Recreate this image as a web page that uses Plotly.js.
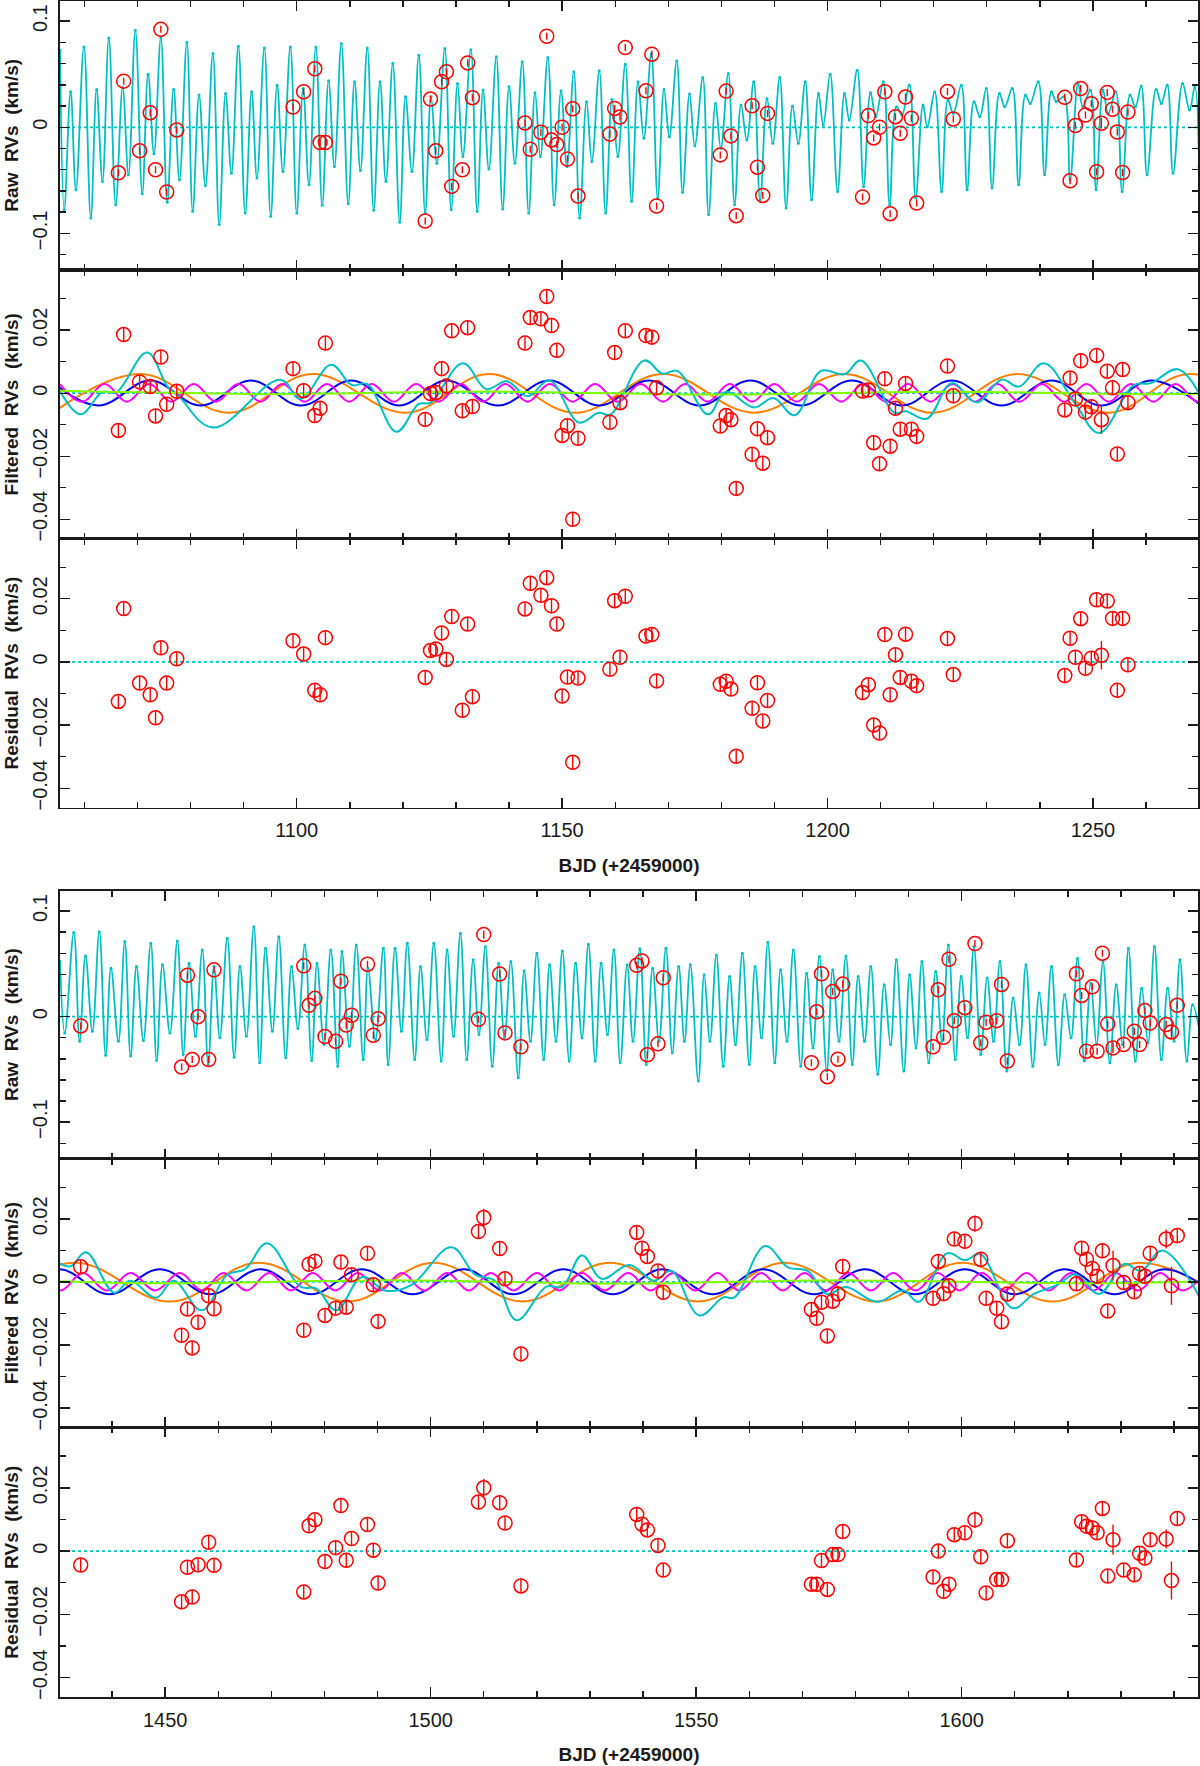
<!DOCTYPE html>
<html>
<head>
<meta charset="utf-8">
<script src="https://cdn.plot.ly/plotly-3.0.1.min.js"></script>
<style>
  body { margin: 0; background: #fff; }
  #chart { width: 1200px; height: 1766px; }
</style>
</head>
<body>
<div id="chart"></div>
<script>
// ---------------- observations, season 1 ----------------
const top_t = [1066.4,1067.4,1070.4,1072.4,1073.4,1074.4,1075.5,1077.4,
  1099.3,1101.3,1103.4,1104.4,1105.4,
  1124.2,1125.2,1126.2,1127.3,1128.2,1129.2,1131.2,1132.2,1133.1,
  1143.0,1144.0,1146.0,1147.1,1148.0,1149.0,1150.0,1151.0,1152.0,1153.0,
  1159.0,1159.9,1160.9,1161.9,1165.8,1166.9,1167.8,
  1179.8,1180.9,1181.8,1182.8,1185.8,1186.8,1187.8,1188.7,
  1206.6,1207.7,1208.7,1209.8,1210.8,1211.8,1212.8,1213.7,1214.7,1215.8,1216.8,
  1222.6,1223.7,
  1244.7,1245.7,1246.7,1247.7,1248.6,1249.7,1250.7,1251.6,1252.7,1253.7,1254.6,1255.6,1256.6];
const top_raw = [-0.0429,0.0435,-0.0222,0.0138,-0.0400,0.0923,-0.0610,-0.0025,
  0.0191,0.0335,0.0551,-0.0144,-0.0144,
  -0.0883,0.0266,-0.0222,0.0429,0.0523,-0.0557,-0.0401,0.0607,0.0279,
  0.0041,-0.0207,-0.0047,0.0858,-0.0119,-0.0163,0.0000,-0.0300,0.0175,-0.0648,
  -0.0063,0.0178,0.0097,0.0751,0.0344,0.0689,-0.0742,
  -0.0260,0.0341,-0.0081,-0.0833,0.0203,-0.0376,-0.0642,0.0131,
  -0.0657,0.0110,-0.0100,0.0000,0.0335,-0.0814,0.0100,-0.0056,0.0285,0.0085,-0.0714,
  0.0338,0.0078,
  0.0282,-0.0504,0.0016,0.0366,0.0116,0.0222,-0.0419,0.0038,0.0329,0.0169,-0.0044,-0.0426,0.0144];
const top_filt = [-0.0118,0.0186,0.0036,0.0021,-0.0072,0.0115,-0.0035,0.0006,
  0.0078,0.0008,-0.0071,-0.0048,0.0159,
  -0.0083,-0.0001,0.0002,0.0078,0.0023,0.0198,-0.0056,0.0208,-0.0042,
  0.0159,0.0240,0.0236,0.0307,0.0215,0.0136,-0.0134,-0.0103,-0.0400,-0.0143,
  -0.0092,0.0129,-0.0030,0.0198,0.0183,0.0178,0.0017,
  -0.0104,-0.0071,-0.0084,-0.0302,-0.0194,-0.0113,-0.0222,-0.0141,
  0.0007,0.0010,-0.0157,-0.0224,0.0046,-0.0168,-0.0048,-0.0114,0.0031,-0.0114,-0.0137,
  0.0086,-0.0008,
  -0.0053,0.0048,-0.0018,0.0103,-0.0060,-0.0043,0.0120,-0.0084,0.0070,0.0017,-0.0193,0.0075,-0.0030];
const top_res = [-0.0125,0.0169,-0.0067,-0.0104,-0.0177,0.0045,-0.0067,0.0010,
  0.0067,0.0025,-0.0090,-0.0104,0.0077,
  -0.0049,0.0036,0.0041,0.0092,0.0008,0.0144,-0.0153,0.0120,-0.0110,
  0.0168,0.0249,0.0211,0.0267,0.0178,0.0120,-0.0108,-0.0048,-0.0318,-0.0051,
  -0.0023,0.0194,0.0015,0.0208,0.0082,0.0087,-0.0060,
  -0.0071,-0.0061,-0.0086,-0.0299,-0.0147,-0.0066,-0.0187,-0.0122,
  -0.0097,-0.0072,-0.0200,-0.0225,0.0087,-0.0104,0.0023,-0.0049,0.0088,-0.0061,-0.0075,
  0.0074,-0.0040,
  -0.0043,0.0075,0.0015,0.0137,-0.0020,0.0012,0.0197,0.0021,0.0193,0.0138,-0.0090,0.0138,-0.0009];
const top_raw_err = [0.0033,0.0033,0.0033,0.0033,0.0033,0.0033,0.0033,0.0033,
  0.0033,0.0033,0.0033,0.0033,0.0033,
  0.0033,0.0033,0.0033,0.0033,0.0033,0.0033,0.0033,0.0033,0.0033,
  0.0033,0.0033,0.0033,0.0033,0.0033,0.0033,0.0033,0.0033,0.0033,0.0033,
  0.0033,0.0033,0.0033,0.0033,0.0033,0.0033,0.0033,
  0.0033,0.0033,0.0033,0.0033,0.0033,0.0033,0.0033,0.0033,
  0.0033,0.0033,0.0033,0.0033,0.0033,0.0033,0.0033,0.0033,0.0033,0.0033,0.0033,
  0.0033,0.0033,
  0.0033,0.0033,0.0033,0.0033,0.0033,0.0033,0.0033,0.0050,0.0033,0.0033,0.0033,0.0033,0.0033];
const top_err = [0.0021,0.0021,0.0021,0.0021,0.0021,0.0021,0.0021,0.0021,
  0.0021,0.0021,0.0021,0.0021,0.0021,
  0.0021,0.0021,0.0021,0.0021,0.0021,0.0021,0.0021,0.0021,0.0021,
  0.0021,0.0021,0.0021,0.0021,0.0021,0.0021,0.0021,0.0021,0.0021,0.0021,
  0.0021,0.0021,0.0021,0.0021,0.0021,0.0021,0.0021,
  0.0021,0.0021,0.0021,0.0021,0.0021,0.0021,0.0021,0.0021,
  0.0021,0.0021,0.0021,0.0021,0.0021,0.0021,0.0021,0.0021,0.0021,0.0021,0.0021,
  0.0021,0.0021,
  0.0021,0.0021,0.0021,0.0021,0.0021,0.0021,0.0021,0.0045,0.0021,0.0021,0.0021,0.0021,0.0021];

// stellar-activity model drawn over the raw RVs (turning points)
const top_act_t = [1055.4,1056.2,1057.4,1058.4,1059.9,1061.2,1062.3,1063.4,1064.6,1065.9,
  1067.2,1068.3,1069.6,1070.9,1072.0,1073.1,1074.4,1075.6,1076.8,1077.9,
  1079.3,1080.4,1081.6,1082.8,1084.2,1085.4,1086.6,1087.7,1089.0,1090.3,
  1091.5,1092.5,1093.9,1095.1,1096.3,1097.4,1098.8,1100.0,1101.2,1102.3,
  1103.6,1104.8,1106.0,1107.1,1108.4,1109.7,1110.9,1112.0,1113.3,1114.5,
  1115.7,1116.8,1118.1,1119.4,1120.5,1121.7,1123.0,1124.2,1125.3,1126.4,
  1127.9,1129.1,1130.3,1131.3,1132.8,1134.0,1135.1,1136.2,1137.6,1138.8,
  1140.0,1141.1,1142.5,1143.7,1144.9,1145.9,1147.3,1148.5,1149.8,1150.9,
  1152.2,1153.3,1154.6,1155.6,1157.0,1158.2,1159.4,1160.5,1161.9,1163.1,
  1164.3,1165.4,1166.8,1168.0,1169.2,1170.2,1171.6,1172.7,1174.0,1175.0,
  1176.5,1177.6,1178.9,1179.9,1181.3,1182.5,1183.7,1184.8,1186.1,1187.3,
  1188.6,1189.7,1191.0,1192.2,1193.4,1194.5,1195.8,1197.0,1198.3,1199.2,1200.5,
  1201.9,1203.2,1204.1,1205.6,1206.8,1208.1,1209.1,1210.5,1211.7,1213.0,
  1214.0,1215.4,1216.6,1218.0,1218.8,1220.2,1221.5,1222.7,1223.7,1225.2,
  1226.3,1227.6,1228.7,1229.9,1231.0,1232.4,1233.4,1234.8,1236.0,1237.3,
  1238.2,1239.7,1240.9,1242.2,1243.1,1244.5,1245.7,1247.2,1248.1,1249.5,
  1250.6,1251.9,1252.9,1254.3,1255.5,1257.0,1258.0,1259.1,1260.2,1261.9,
  1262.9,1264.0,1265.1,1266.9,1268.2,1269.2,1270.0];
const top_act_v = [0.0726,-0.0776,0.0335,-0.0588,0.0757,-0.0854,0.0357,-0.0510,0.0842,-0.0729,
  0.0376,-0.0448,0.0914,-0.0626,0.0500,-0.0250,0.0845,-0.0707,0.0357,-0.0495,
  0.0801,-0.0792,0.0304,-0.0551,0.0695,-0.0917,0.0319,-0.0432,0.0764,-0.0808,
  0.0335,-0.0479,0.0748,-0.0839,0.0397,-0.0416,0.0757,-0.0808,0.0366,-0.0541,
  0.0757,-0.0735,0.0438,-0.0369,0.0789,-0.0720,0.0429,-0.0407,0.0748,-0.0782,
  0.0429,-0.0510,0.0601,-0.0895,0.0288,-0.0416,0.0679,-0.0808,0.0288,-0.0338,
  0.0742,-0.0776,0.0413,-0.0275,0.0732,-0.0792,0.0351,-0.0394,0.0664,-0.0770,
  0.0382,-0.0338,0.0617,-0.0808,0.0326,-0.0275,0.0657,-0.0729,0.0344,-0.0369,
  0.0523,-0.0854,0.0241,-0.0322,0.0532,-0.0808,0.0263,-0.0275,0.0595,-0.0698,
  0.0429,-0.0103,0.0695,-0.0667,0.0357,-0.0088,0.0626,-0.0613,0.0313,-0.0175,
  0.0469,-0.0823,0.0225,-0.0197,0.0507,-0.0729,0.0210,-0.0119,0.0429,-0.0682,
  0.0272,-0.0150,0.0469,-0.0761,0.0200,-0.0150,0.0429,-0.0682,0.0319,0.0022,0.0500,
  -0.0604,0.0319,0.0069,0.0538,-0.0557,0.0326,0.0100,0.0429,-0.0729,0.0194,
  0.0116,0.0397,-0.0667,0.0210,0.0006,0.0335,-0.0604,0.0257,0.0131,0.0397,
  -0.0588,0.0241,0.0100,0.0366,-0.0573,0.0319,0.0194,0.0366,-0.0541,0.0304,
  0.0225,0.0429,-0.0448,0.0335,0.0241,0.0288,-0.0495,0.0413,0.0194,0.0351,
  -0.0588,0.0351,0.0131,0.0335,-0.0604,0.0304,0.0194,0.0388,-0.0448,0.0357,
  0.0225,0.0397,-0.0432,0.0413,0.0163,0.0380,-0.0370];

// planet signals on the filtered RVs, season 1
const top_orange_t = [1054.0,1070.5,1087.3,1102.9,1120.6,1136.2,1152.4,1169.0,1186.2,1203.2,1219.8,1235.7,1253.0,1268.2,1285.0];
const top_orange_v = [-0.0062,0.0061,-0.0062,0.0061,-0.0062,0.0061,-0.0062,0.0061,-0.0062,0.0061,-0.0062,0.0061,-0.0062,0.0061,-0.0062];
const top_blue_t = [1053.6,1062.6,1072.4,1081.9,1091.4,1100.8,1110.3,1119.3,1128.2,1137.9,1147.6,1157.0,
  1166.3,1175.9,1185.5,1195.0,1204.6,1214.0,1223.4,1232.8,1242.2,1251.6,1261.0,1270.4];
const top_blue_v = [0.0040,-0.0039,0.0040,-0.0039,0.0040,-0.0039,0.0040,-0.0039,0.0040,-0.0039,0.0040,-0.0039,
  0.0040,-0.0039,0.0040,-0.0039,0.0040,-0.0039,0.0040,-0.0039,0.0040,-0.0039,0.0040,-0.0039];
const top_magenta_t = [1055.4,1059.6,1063.8,1068.0,1072.2,1076.4,1080.6,1084.8,1089.0,1093.2,
  1097.3,1101.5,1105.7,1109.9,1114.1,1118.3,1122.5,1126.7,1130.9,1135.1,
  1139.3,1143.5,1147.7,1152.0,1156.2,1160.5,1164.8,1169.0,1173.2,1177.4,
  1181.6,1185.8,1190.0,1194.2,1198.4,1202.6,1206.8,1211.0,1215.2,1219.4,
  1223.6,1227.8,1232.0,1236.2,1240.4,1244.6,1248.8,1253.0,1257.2,1261.4,
  1265.6,1269.8,1274.0];
const top_magenta_v = [0.0029,-0.0027,0.0029,-0.0027,0.0029,-0.0027,0.0029,-0.0027,0.0029,-0.0027,
  0.0029,-0.0027,0.0029,-0.0027,0.0029,-0.0027,0.0029,-0.0027,0.0029,-0.0027,
  0.0029,-0.0027,0.0029,-0.0027,0.0029,-0.0027,0.0029,-0.0027,0.0029,-0.0027,
  0.0029,-0.0027,0.0029,-0.0027,0.0029,-0.0027,0.0029,-0.0027,0.0029,-0.0027,
  0.0029,-0.0027,0.0029,-0.0027,0.0029,-0.0027,0.0029,-0.0027,0.0029,-0.0027,
  0.0029,-0.0027,0.0029];
const top_green_t = [1055,1066,1080,1095,1110,1125,1140,1155,1170,1185,1200,1215,1230,1245,1260,1270];
const top_green_v = [0.0008,0.0004,0.0001,-0.0003,0.0000,0.0004,0.0005,0.0001,-0.0003,-0.0004,0.0000,0.0004,0.0004,0.0000,-0.0003,-0.0002];
const top_total_t = [1055.3,1059.3,1063.4,1066.0,1071.8,1075.7,1077.8,1084.2,1096.9,1100.7,
  1106.5,1110.4,1113.3,1118.8,1123.0,1125.2,1131.3,1135.7,1139.6,1143.5,
  1147.6,1153.2,1156.9,1159.1,1165.5,1168.9,1171.7,1177.5,1180.8,1186.2,
  1189.8,1193.8,1198.8,1203.2,1206.3,1212.6,1214.7,1218.7,1223.4,1228.1,
  1232.8,1236.1,1240.8,1246.5,1251.2,1257.7,1260.9,1266.0,1270.2];
const top_total_v = [0.0010,-0.0067,0.0004,0.0003,0.0129,0.0020,-0.0010,-0.0109,0.0043,-0.0018,
  0.0090,0.0026,0.0029,-0.0122,-0.0034,-0.0030,0.0095,0.0013,0.0038,-0.0010,
  0.0040,-0.0093,-0.0062,-0.0068,0.0104,0.0062,0.0071,-0.0067,0.0004,-0.0045,
  -0.0015,-0.0070,0.0071,0.0060,0.0104,-0.0062,-0.0057,-0.0081,0.0032,-0.0029,
  0.0043,0.0021,0.0095,-0.0029,-0.0126,0.0026,0.0032,0.0076,-0.0007];

// ---------------- observations, season 2 ----------------
const bot_t = [1434.1,
  1453.1,1454.2,1455.1,1456.2,1458.2,1459.2,
  1476.1,1477.1,1478.2,1480.1,1482.1,1483.1,1484.1,1485.1,1488.1,1489.2,1490.1,
  1509.0,1510.0,1513.0,1514.0,1517.0,
  1538.8,1539.8,1540.8,1542.8,1543.8,
  1571.7,1572.7,1573.6,1574.7,1575.7,1576.7,1577.6,
  1594.6,1595.6,1596.6,1597.6,1598.6,1600.6,1602.5,1603.6,1604.6,1606.6,1607.5,1608.6,
  1621.6,1622.6,1623.5,1624.6,1625.5,1626.5,1627.5,1628.5,1630.5,1632.5,1633.5,1634.5,1635.5,1638.5,1639.5,1640.6];
const bot_raw = [-0.0088,
  -0.0478,0.0393,-0.0406,0.0000,-0.0406,0.0443,
  0.0481,0.0107,0.0173,-0.0189,-0.0233,0.0336,-0.0079,0.0013,0.0497,-0.0176,-0.0019,
  -0.0025,0.0777,0.0403,-0.0154,-0.0286,
  0.0487,0.0528,-0.0362,-0.0258,0.0368,
  -0.0437,0.0047,0.0406,-0.0569,0.0239,-0.0403,0.0308,
  -0.0286,0.0255,-0.0195,0.0544,-0.0038,0.0085,0.0692,-0.0248,-0.0053,-0.0038,0.0305,-0.0421,
  0.0406,0.0201,-0.0327,0.0283,-0.0327,0.0601,-0.0069,-0.0296,-0.0264,-0.0138,-0.0264,0.0057,-0.0060,-0.0075,-0.0145,0.0107];
const bot_filt = [0.0048,
  -0.0169,-0.0086,-0.0209,-0.0128,-0.0044,-0.0085,
  -0.0153,0.0056,0.0066,-0.0106,-0.0083,0.0063,-0.0080,0.0023,0.0091,-0.0009,-0.0125,
  0.0160,0.0204,0.0106,0.0010,-0.0228,
  0.0157,0.0107,0.0081,0.0035,-0.0033,
  -0.0087,-0.0115,-0.0064,-0.0171,-0.0061,-0.0038,0.0049,
  -0.0052,0.0065,-0.0037,-0.0012,0.0136,0.0129,0.0185,0.0072,-0.0052,-0.0083,-0.0126,-0.0038,
  -0.0006,0.0107,0.0072,0.0043,0.0018,0.0099,-0.0092,0.0052,-0.0002,-0.0031,0.0027,0.0018,0.0091,0.0136,-0.0012,0.0147];
const bot_res = [-0.0044,
  -0.0160,-0.0051,-0.0145,-0.0043,0.0028,-0.0045,
  -0.0129,0.0080,0.0099,-0.0033,0.0011,0.0144,-0.0029,0.0040,0.0084,0.0003,-0.0101,
  0.0155,0.0200,0.0153,0.0089,-0.0110,
  0.0116,0.0085,0.0067,0.0018,-0.0060,
  -0.0105,-0.0105,-0.0030,-0.0121,-0.0011,-0.0011,0.0062,
  -0.0082,0.0000,-0.0127,-0.0105,0.0052,0.0058,0.0099,-0.0018,-0.0132,-0.0090,-0.0090,0.0033,
  -0.0028,0.0093,0.0079,0.0073,0.0058,0.0135,-0.0079,0.0036,-0.0060,-0.0075,-0.0007,-0.0022,0.0036,0.0038,-0.0093,0.0103];
const bot_raw_err = [0.0033,
  0.0033,0.0033,0.0033,0.0033,0.0033,0.0033,
  0.0033,0.0033,0.0033,0.0033,0.0033,0.0033,0.0033,0.0033,0.0033,0.0033,0.0033,
  0.0033,0.0038,0.0033,0.0033,0.0033,
  0.0033,0.0033,0.0033,0.0033,0.0033,
  0.0033,0.0033,0.0033,0.0033,0.0033,0.0033,0.0033,
  0.0033,0.0033,0.0033,0.0033,0.0033,0.0033,0.0033,0.0033,0.0033,0.0033,0.0033,0.0033,
  0.0033,0.0033,0.0033,0.0033,0.0033,0.0033,0.0033,0.0050,0.0033,0.0033,0.0033,0.0033,0.0033,0.0035,0.0060,0.0033];
const bot_err = [0.0021,
  0.0021,0.0021,0.0021,0.0021,0.0021,0.0021,
  0.0021,0.0021,0.0021,0.0021,0.0021,0.0021,0.0021,0.0021,0.0021,0.0021,0.0021,
  0.0021,0.0028,0.0021,0.0021,0.0021,
  0.0021,0.0021,0.0021,0.0021,0.0021,
  0.0021,0.0021,0.0021,0.0021,0.0021,0.0021,0.0021,
  0.0021,0.0021,0.0021,0.0021,0.0021,0.0021,0.0026,0.0021,0.0021,0.0021,0.0021,0.0021,
  0.0021,0.0021,0.0021,0.0021,0.0021,0.0021,0.0021,0.0047,0.0021,0.0021,0.0021,0.0021,0.0021,0.0030,0.0060,0.0021];

const bot_act_t = [1430.2,1431.1,1432.8,1433.9,1435.0,1436.3,1437.6,1438.8,1439.8,1441.2,
  1442.4,1443.5,1444.6,1445.9,1447.3,1448.4,1449.5,1450.9,1452.3,1453.4,
  1454.5,1455.7,1457.0,1458.1,1459.2,1460.3,1461.7,1463.0,1464.1,1465.3,
  1466.7,1467.8,1468.9,1470.2,1471.4,1472.7,1473.8,1475.0,1476.3,1477.6,
  1478.6,1479.9,1481.2,1482.5,1483.3,1484.7,1486.0,1487.3,1488.2,1489.6,
  1491.1,1492.0,1493.3,1494.5,1495.6,1497.0,1498.1,1499.3,1500.6,1502.0,
  1503.1,1504.3,1505.6,1506.8,1508.0,1509.1,1510.3,1511.6,1512.8,1513.9,
  1515.1,1516.5,1517.6,1518.8,1520.0,1521.3,1522.4,1523.6,1524.8,1526.1,
  1527.3,1528.5,1529.7,1531.0,1532.1,1533.3,1534.5,1535.7,1537.0,1538.1,
  1539.4,1540.6,1541.8,1543.0,1544.3,1545.5,1546.7,1547.8,1548.9,1550.4,
  1551.5,1552.6,1553.8,1555.1,1556.3,1557.4,1558.7,1560.0,1561.1,1562.3,
  1563.5,1564.8,1565.9,1567.1,1568.3,1569.7,1570.8,1572.0,1573.2,1574.6,
  1575.7,1576.9,1578.2,1579.4,1580.5,1581.7,1582.9,1584.2,1585.4,1586.6,
  1587.7,1589.1,1590.2,1591.4,1592.5,1593.8,1595.1,1596.3,1597.5,1598.8,
  1599.9,1601.1,1602.3,1603.6,1604.8,1606.0,1607.2,1608.5,1609.7,1610.9,
  1612.1,1613.4,1614.6,1615.7,1616.9,1618.2,1619.4,1620.6,1621.8,1623.1,
  1624.3,1625.4,1626.6,1627.9,1629.1,1630.3,1631.4,1632.7,1633.9,1635.1,
  1636.3,1637.6,1638.8,1640.0,1641.1,1642.4,1643.5,1644.9];
const bot_act_v = [0.0522,-0.0154,0.0796,-0.0233,0.0575,-0.0138,0.0805,-0.0365,0.0459,-0.0233,
  0.0711,-0.0374,0.0475,-0.0226,0.0695,-0.0415,0.0491,-0.0154,0.0717,-0.0358,
  0.0506,-0.0186,0.0632,-0.0453,0.0475,-0.0201,0.0742,-0.0384,0.0475,-0.0186,
  0.0852,-0.0437,0.0648,-0.0138,0.0758,-0.0390,0.0475,-0.0113,0.0679,-0.0415,
  0.0506,-0.0264,0.0632,-0.0469,0.0616,-0.0280,0.0679,-0.0406,0.0459,-0.0217,
  0.0648,-0.0453,0.0648,-0.0138,0.0695,-0.0406,0.0475,-0.0217,0.0695,-0.0421,
  0.0632,-0.0186,0.0789,-0.0406,0.0538,-0.0170,0.0664,-0.0469,0.0506,-0.0201,
  0.0522,-0.0579,0.0434,-0.0233,0.0601,-0.0406,0.0491,-0.0233,0.0623,-0.0421,
  0.0506,-0.0201,0.0686,-0.0421,0.0506,-0.0170,0.0632,-0.0437,0.0491,-0.0233,
  0.0642,-0.0453,0.0459,-0.0233,0.0648,-0.0343,0.0475,-0.0233,0.0491,-0.0610,
  0.0396,-0.0233,0.0585,-0.0469,0.0380,-0.0264,0.0601,-0.0453,0.0475,-0.0201,
  0.0704,-0.0437,0.0443,-0.0233,0.0632,-0.0469,0.0412,-0.0296,0.0569,-0.0516,
  0.0443,-0.0233,0.0575,-0.0453,0.0380,-0.0233,0.0475,-0.0547,0.0302,-0.0264,
  0.0538,-0.0516,0.0396,-0.0296,0.0522,-0.0437,0.0428,-0.0233,0.0679,-0.0406,
  0.0380,-0.0201,0.0664,-0.0358,0.0365,-0.0233,0.0522,-0.0516,0.0176,-0.0264,
  0.0491,-0.0469,0.0223,-0.0264,0.0475,-0.0453,0.0208,-0.0201,0.0553,-0.0421,
  0.0318,-0.0264,0.0522,-0.0437,0.0302,-0.0264,0.0648,-0.0421,0.0270,-0.0248,
  0.0664,-0.0406,0.0270,-0.0233,0.0538,-0.0421,0.0113,-0.0170];

const bot_orange_t = [1416.3,1433.0,1450.9,1467.7,1484.5,1500.5,1517.3,1533.7,1550.4,1566.6,1584.0,1600.0,1617.2,1633.5,1650.5];
const bot_orange_v = [-0.0062,0.0061,-0.0062,0.0061,-0.0062,0.0061,-0.0062,0.0061,-0.0062,0.0061,-0.0062,0.0061,-0.0062,0.0061,-0.0062];
const bot_blue_t = [1420.5,1430.0,1439.5,1449.0,1458.5,1468.0,1477.5,1487.0,1496.6,1506.3,1515.6,1525.0,1534.3,
  1543.6,1553.1,1562.6,1572.2,1581.8,1591.2,1600.6,1610.0,1619.4,1628.8,1638.2,1647.6];
const bot_blue_v = [-0.0039,0.0040,-0.0039,0.0040,-0.0039,0.0040,-0.0039,0.0040,-0.0039,0.0040,-0.0039,0.0040,-0.0039,
  0.0040,-0.0039,0.0040,-0.0039,0.0040,-0.0039,0.0040,-0.0039,0.0040,-0.0039,0.0040,-0.0039];
const bot_magenta_t = [1426.1,1430.3,1434.5,1439.0,1443.5,1448.1,1452.8,1456.9,1461.0,1465.3,
  1469.6,1473.7,1477.8,1482.0,1486.3,1490.4,1494.6,1498.8,1503.1,1507.2,
  1511.3,1515.6,1520.0,1524.2,1528.5,1532.8,1537.2,1541.4,1545.7,1549.8,
  1554.0,1558.1,1562.3,1566.3,1570.4,1574.5,1578.7,1582.9,1587.1,1591.3,
  1595.5,1599.6,1603.8,1608.0,1612.2,1616.4,1620.6,1624.8,1629.0,1633.2,
  1637.4,1641.6,1645.8];
const bot_magenta_v = [0.0028,-0.0027,0.0028,-0.0027,0.0028,-0.0027,0.0028,-0.0027,0.0028,-0.0027,
  0.0028,-0.0027,0.0028,-0.0027,0.0028,-0.0027,0.0028,-0.0027,0.0028,-0.0027,
  0.0028,-0.0027,0.0028,-0.0027,0.0028,-0.0027,0.0028,-0.0027,0.0028,-0.0027,
  0.0028,-0.0027,0.0028,-0.0027,0.0028,-0.0027,0.0028,-0.0027,0.0028,-0.0027,
  0.0028,-0.0027,0.0028,-0.0027,0.0028,-0.0027,0.0028,-0.0027,0.0028,-0.0027,
  0.0028,-0.0027,0.0028];
const bot_green_t = [1430,1445,1460,1475,1490,1505,1520,1535,1550,1565,1580,1595,1610,1625,1645];
const bot_green_v = [0.0002,-0.0004,-0.0003,0.0002,0.0005,0.0003,-0.0002,-0.0005,-0.0002,0.0003,0.0005,0.0002,-0.0002,-0.0004,0.0001];
const bot_total_t = [1430.0,1432.2,1435.1,1440.4,1443.4,1448.3,1451.6,1456.9,1461.7,1465.1,
  1469.2,1475.5,1478.5,1482.2,1487.1,1491.6,1496.4,1503.9,1508.4,1512.1,
  1516.2,1521.8,1524.8,1528.5,1532.2,1537.4,1542.1,1545.3,1550.6,1555.1,
  1557.2,1563.0,1567.3,1571.0,1574.6,1578.2,1584.0,1589.0,1591.9,1597.3,
  1600.6,1603.5,1609.6,1613.6,1617.9,1621.5,1625.9,1630.6,1633.8,1637.8,1645.2];
const bot_total_v = [0.0060,0.0050,0.0094,-0.0034,0.0004,-0.0050,0.0004,-0.0090,0.0023,0.0041,
  0.0123,-0.0015,-0.0021,-0.0090,0.0016,-0.0028,-0.0009,0.0110,0.0023,0.0004,
  -0.0121,-0.0015,-0.0015,0.0085,0.0010,0.0054,0.0004,0.0035,-0.0106,-0.0049,
  -0.0049,0.0114,0.0046,0.0035,-0.0038,-0.0016,-0.0063,-0.0027,-0.0063,0.0091,
  0.0069,0.0088,-0.0083,-0.0038,-0.0010,0.0024,-0.0038,0.0057,0.0035,0.0100,-0.0061];

// ---------------- styling ----------------
const CYAN = '#00bfc2', RED = '#ff0000', ORANGE = '#ff8000', BLUE = '#0000ee',
      MAGENTA = '#ff00ff', GREEN = '#80ff00', INK = '#1a1a1a';
const TICK_FONT = {family: 'Liberation Sans, Arial, sans-serif', size: 20, color: INK};
const TITLE_FONT = {family: 'Liberation Sans, Arial, sans-serif', size: 19, color: INK, weight: 'bold'};
const NB = '\u00a0';

// panel boxes in pixels (top, bottom) on the 1766 px page
const H = 1766;
const panels = [[0.5, 270], [270, 538.5], [538.5, 807.5], [890.5, 1158.6], [1158.6, 1427.4], [1427.4, 1697]];
const dom = ([a, b]) => [1 - b / H, 1 - a / H];

function obs_trace(x, y, err, n) {
    return {
        x: x, y: y, xaxis: 'x' + n, yaxis: 'y' + n,
        mode: 'markers', type: 'scatter',
        marker: {symbol: 'circle-open', size: 14, color: RED, line: {width: 1.5, color: RED}},
        error_y: {type: 'data', array: err, visible: true, color: RED, thickness: 1.4, width: 0},
        cliponaxis: true
    };
}

function curve(x, y, color, width, n, dots) {
    return {
        x: x, y: y, xaxis: 'x' + n, yaxis: 'y' + n, type: 'scatter',
        mode: dots ? 'lines+markers' : 'lines',
        line: {color: color, width: width, shape: 'spline', smoothing: 1.1},
        marker: {size: 3, color: color}
    };
}

let traces = [];
let layout = {
    width: 1200, height: 1766,
    margin: {l: 60, r: 2, t: 0, b: 0},
    paper_bgcolor: '#fff', plot_bgcolor: '#fff',
    showlegend: false,
    shapes: []
};

function x_axis(n, range, labelled) {
    let ax = {
        domain: [0, 1], anchor: 'y' + n, range: range,
        showline: true, linecolor: INK, linewidth: 1.6, mirror: 'ticks',
        ticks: 'inside', ticklen: 10, tickwidth: 1.4, tickcolor: INK,
        tick0: 1000, dtick: 50,
        minor: {dtick: 10, ticks: 'inside', ticklen: 6, tickwidth: 1.4, tickcolor: INK, showgrid: false},
        showgrid: false, zeroline: false,
        showticklabels: labelled, tickfont: TICK_FONT, ticklabelstandoff: 4
    };
    if (labelled) ax.title = {text: 'BJD (+2459000)', font: TITLE_FONT, standoff: 18};
    return ax;
}

function y_axis(n, range, dtick, minor, title) {
    return {
        domain: dom(panels[n - 1]), anchor: 'x' + n, range: range,
        showline: true, linecolor: INK, linewidth: 1.6, mirror: 'ticks',
        ticks: 'inside', ticklen: 10, tickwidth: 1.4, tickcolor: INK,
        tick0: 0, dtick: dtick, tickangle: -90,
        minor: {dtick: minor, ticks: 'inside', ticklen: 6, tickwidth: 1.4, tickcolor: INK, showgrid: false},
        showgrid: false, zeroline: false,
        tickfont: TICK_FONT, ticklabelstandoff: 3,
        title: {text: title, font: TITLE_FONT, standoff: 6}
    };
}

function zero_line(n) {
    return {
        type: 'line', layer: 'below',
        xref: 'x' + n + ' domain', x0: 0, x1: 1,
        yref: 'y' + n, y0: 0, y1: 0,
        line: {color: CYAN, width: 1.8, dash: 'dot'}
    };
}

const RAW_TITLE = 'Raw' + NB + ' RVs' + NB + ' (km/s)';
const FILT_TITLE = 'Filtered' + NB + ' RVs' + NB + ' (km/s)';
const RES_TITLE = 'Residual' + NB + ' RVs' + NB + ' (km/s)';
const RAW_RANGE = [-0.1345, 0.1195];
const FR_RANGE = [-0.0461, 0.0391];

function add_season(first, xrange, s) {
    const [a, b, c] = [first, first + 1, first + 2];
    // raw RVs with the activity model
    traces.push(curve(s.act_t, s.act_v, CYAN, 1.8, a, true));
    traces.push(obs_trace(s.t, s.raw, s.raw_err, a));
    // filtered RVs with the planet signals
    traces.push(curve(s.orange_t, s.orange_v, ORANGE, 2, b));
    traces.push(curve(s.blue_t, s.blue_v, BLUE, 2, b));
    traces.push(curve(s.magenta_t, s.magenta_v, MAGENTA, 2, b));
    traces.push(curve(s.total_t, s.total_v, CYAN, 2, b));
    traces.push(curve(s.green_t, s.green_v, GREEN, 2, b));
    traces.push(obs_trace(s.t, s.filt, s.err, b));
    // residuals
    traces.push(obs_trace(s.t, s.res, s.err, c));

    const sfx = n => (n === 1 ? '' : String(n));
    layout['xaxis' + sfx(a)] = x_axis(a, xrange, false);
    layout['xaxis' + sfx(b)] = x_axis(b, xrange, false);
    layout['xaxis' + sfx(c)] = x_axis(c, xrange, true);
    layout['yaxis' + sfx(a)] = y_axis(a, RAW_RANGE, 0.1, 0.02, RAW_TITLE);
    layout['yaxis' + sfx(b)] = y_axis(b, FR_RANGE, 0.02, 0.01, FILT_TITLE);
    layout['yaxis' + sfx(c)] = y_axis(c, FR_RANGE, 0.02, 0.01, RES_TITLE);
    layout.shapes.push(zero_line(a), zero_line(b), zero_line(c));
}

add_season(1, [1055.4, 1269.8], {
    t: top_t, raw: top_raw, filt: top_filt, res: top_res, raw_err: top_raw_err, err: top_err,
    act_t: top_act_t, act_v: top_act_v,
    orange_t: top_orange_t, orange_v: top_orange_v, blue_t: top_blue_t, blue_v: top_blue_v,
    magenta_t: top_magenta_t, magenta_v: top_magenta_v, green_t: top_green_t, green_v: top_green_v,
    total_t: top_total_t, total_v: top_total_v
});
add_season(4, [1430.2, 1644.5], {
    t: bot_t, raw: bot_raw, filt: bot_filt, res: bot_res, raw_err: bot_raw_err, err: bot_err,
    act_t: bot_act_t, act_v: bot_act_v,
    orange_t: bot_orange_t, orange_v: bot_orange_v, blue_t: bot_blue_t, blue_v: bot_blue_v,
    magenta_t: bot_magenta_t, magenta_v: bot_magenta_v, green_t: bot_green_t, green_v: bot_green_v,
    total_t: bot_total_t, total_v: bot_total_v
});

Plotly.newPlot('chart', traces, layout, {staticPlot: true, displayModeBar: false});
</script>
</body>
</html>
